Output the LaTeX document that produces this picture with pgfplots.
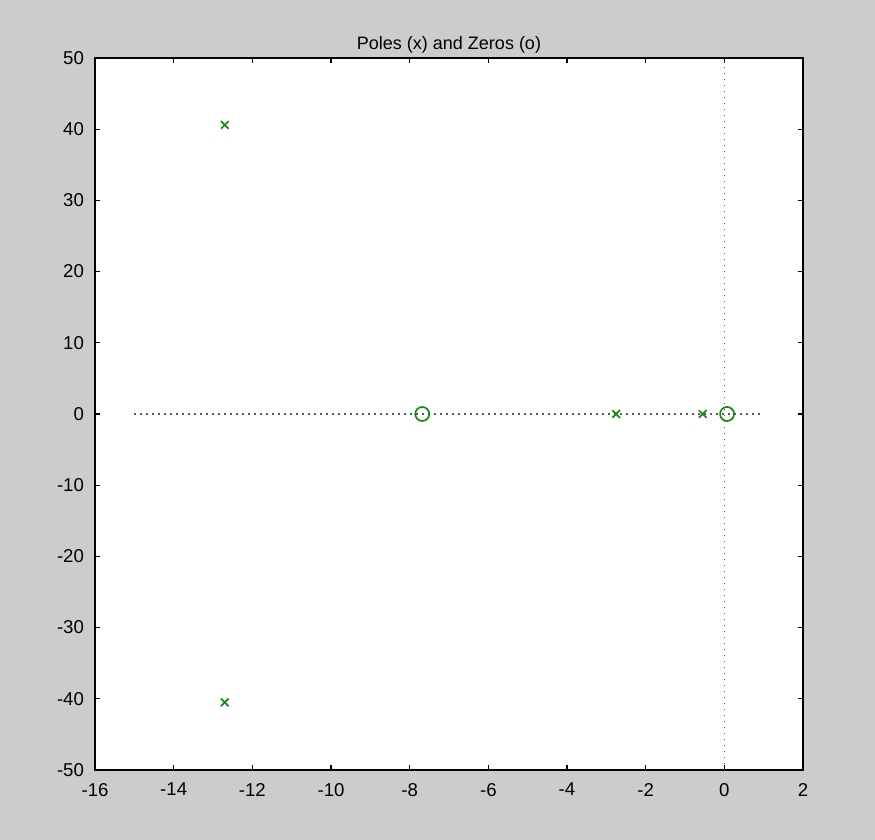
\documentclass[border=0pt]{standalone}
\usepackage{pgfplots}
\pgfplotsset{compat=1.18}
\usepackage{fontspec}
\setmainfont{Liberation Sans}
\definecolor{bggray}{RGB}{204,204,204}
\definecolor{mgreen}{RGB}{20,140,20}
\definecolor{dotgray}{RGB}{90,90,90}
\begin{document}
\begin{tikzpicture}[x=0.5pt,y=0.5pt]
\fill[bggray] (0,0) rectangle (875,840);
\begin{axis}[
  at={(95pt*0.5,70pt*0.5)}, anchor=south west,
  scale only axis,
  width=354pt, height=356pt,
  xmin=-16, xmax=2, ymin=-50, ymax=50,
  xtick={-16,-14,...,2}, ytick={-50,-40,...,50},
  tick align=inside, tick pos=both,
  major tick length=2.5pt,
  axis line style={black, line width=0.6pt},
  every tick/.style={black, line width=0.6pt},
  tick label style={font=\fontsize{9.3}{11}\selectfont},
  xticklabel style={yshift=-3pt},
  yticklabel style={xshift=-2pt},
  /pgf/number format/assume math mode=true,
  title={Poles (x) and Zeros (o)},
  title style={font=\fontsize{9}{10}\selectfont, yshift=-7pt},
  axis background/.style={fill=white},
  clip=false,
]
\addplot[dotgray, line width=0.7pt, dash pattern=on 0.6pt off 2.4pt] coordinates {(-15,0) (1,0)};
\addplot[dotgray, line width=0.7pt, dash pattern=on 0.6pt off 2.4pt] coordinates {(0,-50) (0,50)};
\addplot[only marks, mark=x, mark size=2.7pt, mgreen, line width=0.85pt] coordinates {(-12.7,40.6) (-12.7,-40.5) (-2.75,0) (-0.55,0)};
\addplot[only marks, mark=o, mark size=3.5pt, mgreen, line width=0.85pt] coordinates {(-7.68,0) (0.07,0)};
\end{axis}
\end{tikzpicture}
\end{document}
